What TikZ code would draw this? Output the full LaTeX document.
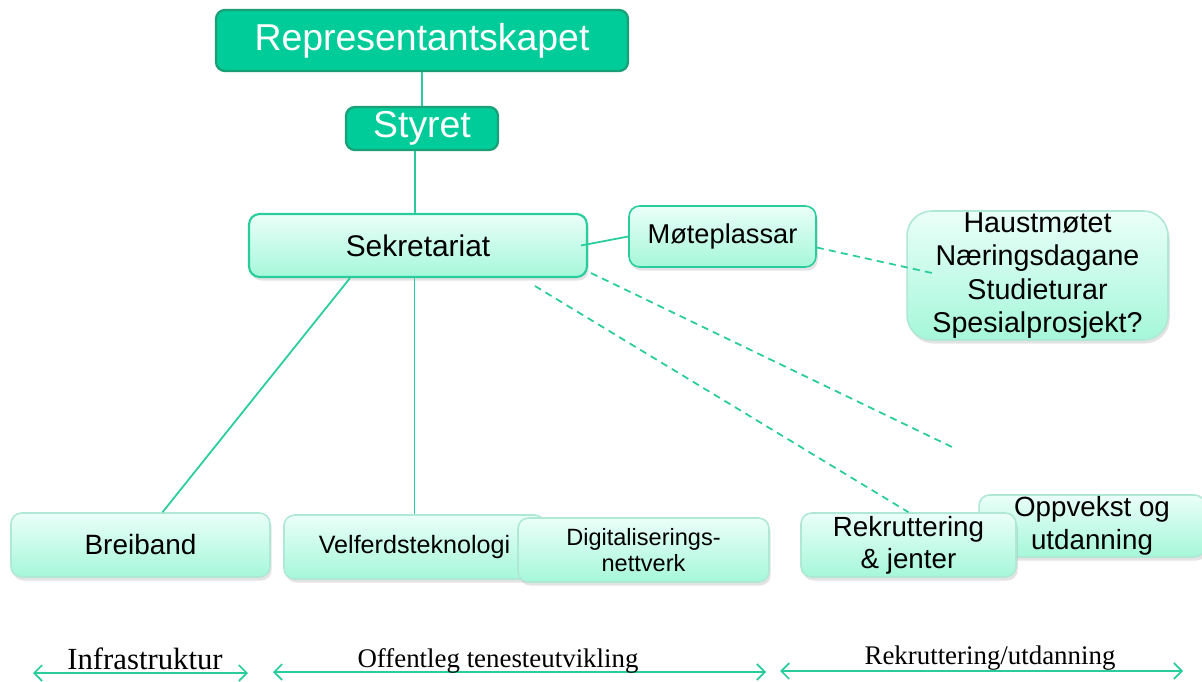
\documentclass[tikz,border=0pt]{standalone}
\usepackage{fontspec}
\setmainfont{Liberation Sans}
\newfontfamily\serifbottom{Liberation Serif}
\usetikzlibrary{arrows.meta,calc,shadows}
\definecolor{mintdark}{RGB}{0,204,153}
\definecolor{mintedge}{RGB}{25,160,118}
\definecolor{minttop}{RGB}{234,255,248}
\definecolor{mintbot}{RGB}{165,247,218}
\definecolor{mintline}{RGB}{40,205,155}
\definecolor{mintpale}{RGB}{175,232,212}
\tikzset{
  softshadow/.style={drop shadow={opacity=0.22,shadow xshift=1pt,shadow yshift=-2pt}},
  topbox/.style={draw=mintedge,line width=1.3pt,fill=mintdark,text=white,rounded corners=5pt,
    inner sep=0pt,font=\fontsize{21.3}{24}\selectfont},
  unitbox/.style={draw=mintline,line width=0.9pt,top color=minttop,bottom color=mintbot,
    rounded corners=6pt,inner sep=0pt,align=center,softshadow},
  link/.style={draw=mintline,line width=1pt},
  dashlink/.style={link,dash pattern=on 4pt off 3pt},
  span/.style={draw=mintline,line width=1pt,{Straight Barb[length=4.5pt,width=9pt]}-{Straight Barb[length=4.5pt,width=9pt]}},
  spanlabel/.style={inner sep=0pt,anchor=base}
}
\begin{document}
\begin{tikzpicture}[x=0.02cm,y=-0.02cm]
\useasboundingbox (0,0) rectangle (1202,682);
% top of the organisation
\node[topbox,minimum width=8.24cm,minimum height=1.22cm] (rep) at (422,40.5) {Representantskapet};
\node[topbox,minimum width=3.04cm,minimum height=0.86cm] (styret) at (422,128.5) {Styret};
\node[unitbox,draw=mintline,line width=1.2pt,minimum width=6.76cm,minimum height=1.26cm,
  font=\fontsize{17}{20}\selectfont] (sekr) at (418,245.5) {Sekretariat};
\node[unitbox,minimum width=3.74cm,minimum height=1.22cm,font=\fontsize{15.5}{18}\selectfont] (mote) at (722.5,236.5) {Møteplassar};
\node[unitbox,draw=mintpale,rounded corners=14pt,minimum width=5.22cm,minimum height=2.58cm,
  font=\fontsize{16.3}{19.1}\selectfont] (haust) at (1037.5,275.5) {Haustmøtet\\Næringsdagane\\Studieturar\\Spesialprosjekt?};
% bottom row
\node[unitbox,draw=mintpale,minimum width=5.18cm,minimum height=1.28cm,font=\fontsize{15.9}{18}\selectfont] (breiband) at (140.5,545) {Breiband};
\node[unitbox,draw=mintpale,minimum width=5.22cm,minimum height=1.28cm,font=\fontsize{14.3}{17}\selectfont] (velferd) at (414.5,547) {Velferdsteknologi};
\node[unitbox,draw=mintpale,minimum width=5.02cm,minimum height=1.28cm,font=\fontsize{13.4}{14.7}\selectfont] (digital) at (643.5,550) {Digitaliserings-\\nettverk};
\node[unitbox,draw=mintpale,minimum width=4.52cm,minimum height=1.24cm,font=\fontsize{15.8}{18.7}\selectfont] (oppvekst) at (1092,526) {Oppvekst og\\utdanning};
\node[unitbox,draw=mintpale,minimum width=4.30cm,minimum height=1.28cm,font=\fontsize{15.8}{18.3}\selectfont] (rekrut) at (908.5,545) {Rekruttering\\\& jenter};
\coordinate (loose) at (952,447);
% connectors
\draw[link] (rep.south) -- (styret.north);
\draw[link] ($(styret.south)+(-7,0)$) -- ($(sekr.north)+(-3,0)$);
\draw[link] ($(sekr.east)+(-7,0)$) -- (mote.west);
\draw[link] ($(sekr.south)+(-68,0)$) -- ($(breiband.north)+(22,0)$);
\draw[link] (sekr.south -| velferd.north) -- (velferd.north);
\draw[dashlink] ($(mote.east)+(0,11)$) -- ($(haust.west)+(28,-2)$);
\draw[dashlink] ($(sekr.south)+(117,8)$) -- (rekrut.north);
\draw[dashlink] ($(sekr.south east)+(3,-5)$) -- (loose);
% areas along the bottom
\coordinate (a1) at (33,673);
\coordinate (a2) at (248,673);
\coordinate (b1) at (273,672);
\coordinate (b2) at (766,672);
\coordinate (c1) at (780,671);
\coordinate (c2) at (1183,671);
\draw[span] (a1) -- (a2);
\draw[span] (b1) -- (b2);
\draw[span] (c1) -- (c2);
\node[spanlabel,font=\serifbottom\fontsize{17.5}{20}\selectfont] (infra) at (145,669) {Infrastruktur};
\node[spanlabel,font=\serifbottom\fontsize{15.3}{18}\selectfont] (offentleg) at (498,667) {Offentleg tenesteutvikling};
\node[spanlabel,font=\serifbottom\fontsize{15.3}{18}\selectfont] (rekrutlabel) at (990,664) {Rekruttering/utdanning};
\end{tikzpicture}
\end{document}
